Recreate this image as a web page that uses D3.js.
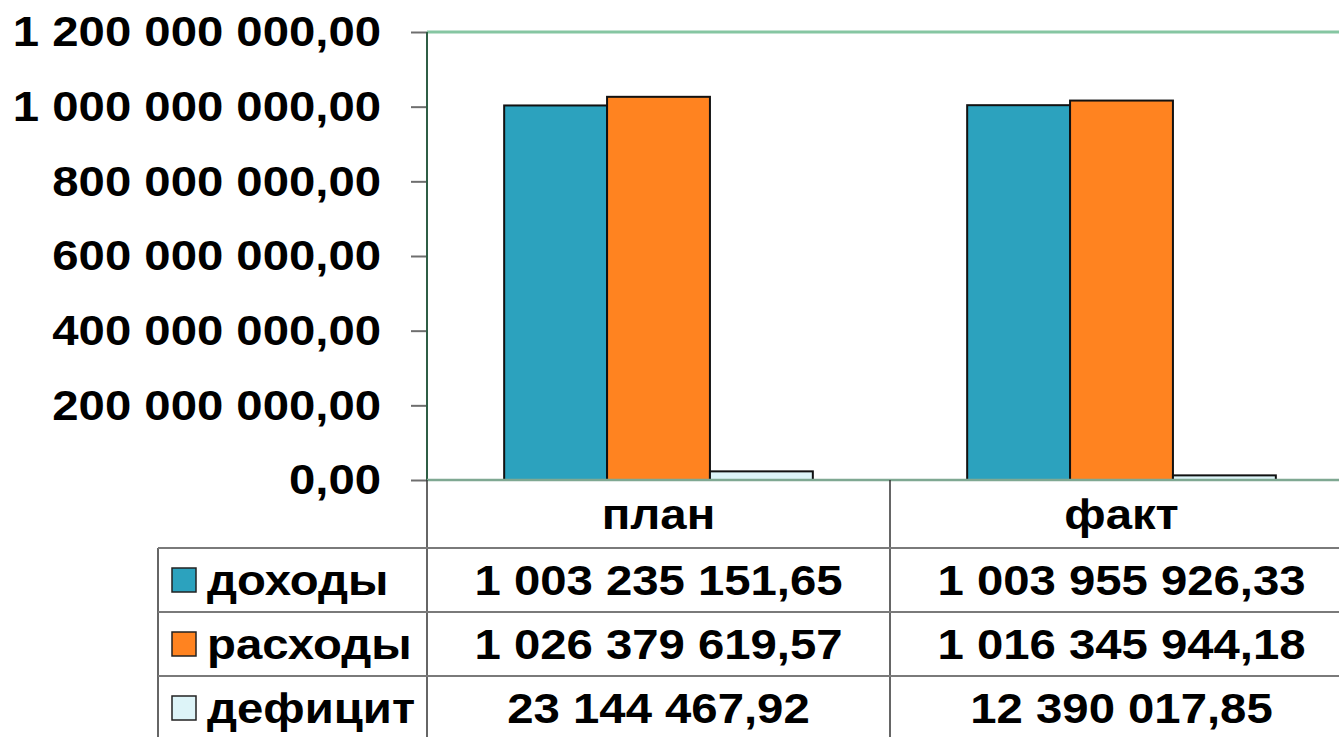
<!DOCTYPE html>
<html>
<head>
<meta charset="utf-8">
<script src="https://cdn.jsdelivr.net/npm/d3@7"></script>
<style>
  body { margin: 0; background: #fff; overflow: hidden; }
  svg text { font-family: "Liberation Sans", Arial, sans-serif; font-weight: bold; fill: #000; }
</style>
</head>
<body>
<script>
// categories and series
var categories = ["план", "факт"];
var seriesNames = ["доходы", "расходы", "дефицит"];
var seriesColors = ["#2ca2be", "#ff8320", "#ddf4f8"];
var seriesLabels = [
  ["1 003 235 151,65", "1 003 955 926,33"],
  ["1 026 379 619,57", "1 016 345 944,18"],
  ["23 144 467,92", "12 390 017,85"]
];
var seriesValues = [
  [1003235151.65, 1003955926.33],
  [1026379619.57, 1016345944.18],
  [23144467.92, 12390017.85]
];
var yTicks = [0, 200000000, 400000000, 600000000, 800000000, 1000000000, 1200000000];
var yTickLabels = ["0,00", "200 000 000,00", "400 000 000,00", "600 000 000,00",
                   "800 000 000,00", "1 000 000 000,00", "1 200 000 000,00"];

var width = 1339, height = 737;
var plotLeft = 427, plotRight = 1353, plotTop = 32, plotBottom = 480;
var tableLeft = 158, rowH = 64, headerBottom = 548;
var stretch = 1.1; // text in the picture is a bit wider than the font

var svg = d3.select("body").append("svg")
    .attr("width", width)
    .attr("height", height);

var x = d3.scaleBand().domain(categories).range([plotLeft, plotRight]);
var xs = d3.scaleBand().domain(seriesNames).range([0, x.bandwidth()]).paddingOuter(0.75);
var y = d3.scaleLinear().domain([0, 1200000000]).range([plotBottom, plotTop]);

// put a stretched text at (px, py)
function label(g, px, py, str, anchor) {
  return g.append("text")
      .attr("transform", "translate(" + px + "," + py + ") scale(" + stretch + ",1)")
      .attr("dy", "0.35em")
      .attr("text-anchor", anchor || "start")
      .attr("font-size", 43)
      .text(str);
}

// top gridline (green)
svg.append("line")
    .attr("x1", plotLeft).attr("x2", plotRight)
    .attr("y1", y(1200000000)).attr("y2", y(1200000000))
    .attr("stroke", "#86c6a2").attr("stroke-width", 3);

// y axis with tick labels
var yAxis = d3.axisLeft(y)
    .tickValues(yTicks)
    .tickSize(16)
    .tickPadding(30)
    .tickFormat(function(d, i) { return yTickLabels[i]; });

var gy = svg.append("g")
    .attr("transform", "translate(" + plotLeft + ",0)")
    .call(yAxis);
gy.select(".domain").remove();
gy.selectAll(".tick line").attr("stroke", "#6e6e6e").attr("stroke-width", 2);
gy.selectAll(".tick text")
    .attr("x", -46 / stretch)
    .attr("transform", "scale(" + stretch + ",1)")
    .attr("font-size", 43)
    .attr("font-family", "Liberation Sans, Arial, sans-serif")
    .attr("font-weight", "bold")
    .attr("fill", "#000");

// bars
var groups = svg.append("g").selectAll("g")
    .data(seriesNames)
    .enter().append("g")
    .attr("fill", function(d, i) { return seriesColors[i]; });

groups.selectAll("rect")
    .data(function(d, i) {
      return categories.map(function(c, j) { return { s: d, c: c, v: seriesValues[i][j] }; });
    })
    .enter().append("rect")
    .attr("x", function(d) { return x(d.c) + xs(d.s); })
    .attr("width", xs.bandwidth())
    .attr("y", function(d) { return y(d.v); })
    .attr("height", function(d) { return plotBottom - y(d.v); })
    .attr("stroke", "#111")
    .attr("stroke-width", 2);

// left axis line and zero line
svg.append("line")
    .attr("x1", plotLeft).attr("x2", plotLeft)
    .attr("y1", plotTop).attr("y2", plotBottom)
    .attr("stroke", "#2f5e45").attr("stroke-width", 2);
svg.append("line")
    .attr("x1", plotLeft).attr("x2", plotRight)
    .attr("y1", plotBottom).attr("y2", plotBottom)
    .attr("stroke", "#7fa892").attr("stroke-width", 2.5);

// data table
var table = svg.append("g");
var lineColor = "#7a7a7a";

// vertical lines
var vx = [plotLeft].concat(categories.map(function(c) { return x(c) + x.bandwidth(); }));
vx.forEach(function(v) {
  table.append("line")
      .attr("x1", v).attr("x2", v)
      .attr("y1", plotBottom).attr("y2", height)
      .attr("stroke", "#333").attr("stroke-width", 1.5);
});
table.append("line")
    .attr("x1", tableLeft).attr("x2", tableLeft)
    .attr("y1", headerBottom).attr("y2", height)
    .attr("stroke", "#333").attr("stroke-width", 1.5);

// horizontal lines
seriesNames.forEach(function(s, i) {
  table.append("line")
      .attr("x1", tableLeft).attr("x2", plotRight)
      .attr("y1", headerBottom + i * rowH).attr("y2", headerBottom + i * rowH)
      .attr("stroke", lineColor).attr("stroke-width", 2);
});

// header row
categories.forEach(function(c) {
  label(table, x(c) + x.bandwidth() / 2, (plotBottom + headerBottom) / 2, c, "middle");
});

// series rows
seriesNames.forEach(function(s, i) {
  var cy = headerBottom + i * rowH + rowH / 2;
  table.append("rect")
      .attr("x", 172).attr("y", cy - 12)
      .attr("width", 24).attr("height", 24)
      .attr("fill", seriesColors[i])
      .attr("stroke", "#222").attr("stroke-width", 1.5);
  label(table, 207, cy, s);
  categories.forEach(function(c, j) {
    label(table, x(c) + x.bandwidth() / 2, cy, seriesLabels[i][j], "middle");
  });
});
</script>
</body>
</html>
